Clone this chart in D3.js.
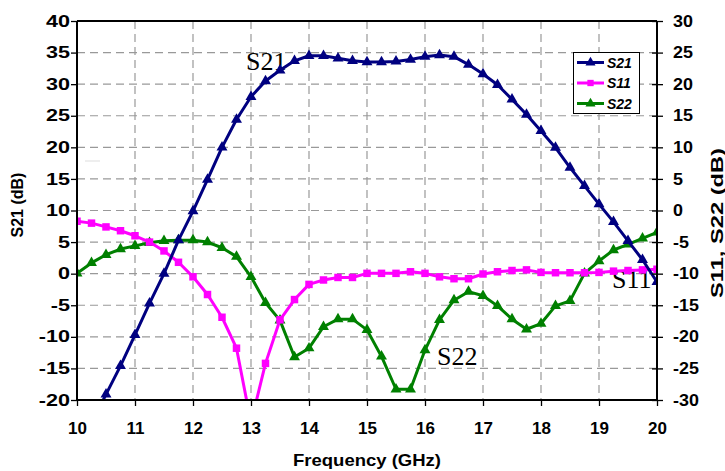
<!DOCTYPE html>
<html>
<head>
<meta charset="utf-8">
<script src="https://cdn.jsdelivr.net/npm/d3@7"></script>
<style>
  body { margin: 0; background: #fff; }
  svg text { font-family: Arial, "Liberation Sans", sans-serif; }
</style>
</head>
<body>
<div id="canvas"></div>
<script>
"use strict"

/* Data (frequency in GHz, levels in dB) */
let freq = [10, 10.25, 10.5, 10.75, 11, 11.25, 11.5, 11.75, 12, 12.25, 12.5, 12.75,
    13, 13.25, 13.5, 13.75, 14, 14.25, 14.5, 14.75, 15, 15.25, 15.5, 15.75,
    16, 16.25, 16.5, 16.75, 17, 17.25, 17.5, 17.75, 18, 18.25, 18.5, 18.75,
    19, 19.25, 19.5, 19.75, 20];

// S21 on left axis, starts at 10.25 GHz
let s21Freq = freq.slice(1);
let s21 = [-23.8, -19.1, -14.6, -9.7, -4.7, 0, 5.3, 9.9, 14.9, 20, 24.4,
    28, 30.5, 32.2, 33.7, 34.5, 34.5, 34.1, 33.7, 33.5, 33.5, 33.6, 33.9,
    34.35, 34.6, 34.35, 33.1, 31.6, 29.9, 27.6, 25.2, 22.6, 19.95, 16.8, 13.9,
    11.0, 8.2, 5.2, 2.2, -1.3];

// S11 and S22 on right axis
let s11 = [-1.7, -2.0, -2.6, -3.2, -4.0, -5.0, -6.4, -8.2, -10.5, -13.3, -16.9, -21.8,
    -33.6, -24.2, -17.3, -14.1, -11.7, -11.0, -10.6, -10.6, -9.95, -9.95, -9.95, -9.7,
    -9.95, -10.5, -10.8, -10.8, -10.05, -9.7, -9.5, -9.4, -9.8, -9.85, -9.85, -9.85,
    -9.8, -9.6, -9.5, -9.4, -9.3];
let s22 = [-9.95, -8.3, -7.0, -6.1, -5.6, -5.1, -4.8, -4.7, -4.7, -5.0, -5.9, -7.3,
    -10.5, -14.6, -17.4, -23.2, -21.8, -18.4, -17.2, -17.2, -18.9, -23.1, -28.3, -28.3,
    -22.1, -17.3, -14.2, -12.85, -13.5, -15.1, -17.2, -18.8, -17.9, -15.1, -14.3, -9.95,
    -8.0, -6.25, -5.35, -4.4, -3.45];

let xTicks = [10, 11, 12, 13, 14, 15, 16, 17, 18, 19, 20];
let leftTicks = [-20, -15, -10, -5, 0, 5, 10, 15, 20, 25, 30, 35, 40];
let rightTicks = [-30, -25, -20, -15, -10, -5, 0, 5, 10, 15, 20, 25, 30];
let seriesNames = ["S21", "S11", "S22"];

/* Drawing configuration */
let svgWidth = 725;
let svgHeight = 471;
let plotLeft = 77, plotRight = 657, plotTop = 21, plotBottom = 400;
let colors = {S21: "#000080", S11: "#ff00ff", S22: "#008000"};

let svg = d3.select("#canvas")
    .append("svg")
    .attr("width", svgWidth)
    .attr("height", svgHeight);

let xScale = d3.scaleLinear().domain([10, 20]).range([plotLeft, plotRight]);
let yLeft = d3.scaleLinear().domain([-20, 40]).range([plotBottom, plotTop]);
let yRight = d3.scaleLinear().domain([-30, 30]).range([plotBottom, plotTop]);

/* grid */
svg.append("g")
    .selectAll("line")
    .data(leftTicks.filter(d => d > -20 && d < 40))
    .join("line")
    .attr("x1", plotLeft).attr("x2", plotRight)
    .attr("y1", d => yLeft(d)).attr("y2", d => yLeft(d))
    .attr("stroke", "#999").attr("stroke-width", 1.2)
    .attr("stroke-dasharray", "8,5");

svg.append("g")
    .selectAll("line")
    .data(xTicks.filter(d => d > 10 && d < 20))
    .join("line")
    .attr("x1", d => xScale(d)).attr("x2", d => xScale(d))
    .attr("y1", plotTop).attr("y2", plotBottom)
    .attr("stroke", "#999").attr("stroke-width", 1.2)
    .attr("stroke-dasharray", "8,5");

// small faint stroke at left of plot
svg.append("line")
    .attr("x1", 85).attr("x2", 100)
    .attr("y1", 161).attr("y2", 161)
    .attr("stroke", "#ddd").attr("stroke-width", 1);

/* free text labels drawn under the curves */
let tag = svg.append("g")
    .attr("font-size", 26)
    .attr("fill", "#000");
tag.append("text").attr("x", 246).attr("y", 70).style("font-family", "'Liberation Serif', serif").text("S21");
tag.append("text").attr("x", 437).attr("y", 365).style("font-family", "'Liberation Serif', serif").text("S22");
tag.append("text").attr("x", 612).attr("y", 288).style("font-family", "'Liberation Serif', serif").text("S11");

/* border top line */
svg.append("line")
    .attr("x1", plotLeft).attr("x2", plotRight)
    .attr("y1", plotTop).attr("y2", plotTop)
    .attr("stroke", "#000").attr("stroke-width", 2);

/* curves */
svg.append("clipPath").attr("id", "plotclip")
    .append("rect")
    .attr("x", plotLeft).attr("y", plotTop)
    .attr("width", plotRight - plotLeft).attr("height", plotBottom - plotTop);

let plot = svg.append("g").attr("clip-path", "url(#plotclip)");

function drawSeries(xs, ys, yScale, color, marker) {
    let pts = xs.map((x, i) => [xScale(x), yScale(ys[i])]);
    plot.append("path")
        .attr("d", d3.line()(pts))
        .attr("fill", "none")
        .attr("stroke", color)
        .attr("stroke-width", 3)
        .attr("stroke-linejoin", "round");
    plot.append("g")
        .selectAll("path")
        .data(pts)
        .join("path")
        .attr("transform", d => "translate(" + d[0] + "," + d[1] + ")")
        .attr("d", d3.symbol().type(marker).size(marker === d3.symbolSquare ? 56 : 52))
        .attr("fill", color);
}

drawSeries(freq, s22, yRight, colors.S22, d3.symbolTriangle);
drawSeries(freq, s11, yRight, colors.S11, d3.symbolSquare);
drawSeries(s21Freq, s21, yLeft, colors.S21, d3.symbolTriangle);

/* axes */
let plain = d => String(d);

let xAxis = svg.append("g")
    .attr("transform", "translate(0," + plotBottom + ")")
    .call(d3.axisBottom(xScale).tickValues(xTicks).tickFormat(plain).tickSize(6).tickPadding(16));

let leftAxis = svg.append("g")
    .attr("transform", "translate(" + plotLeft + ",0)")
    .call(d3.axisLeft(yLeft).tickValues(leftTicks).tickFormat(plain).tickSize(6).tickPadding(1));

let rightAxis = svg.append("g")
    .attr("transform", "translate(" + plotRight + ",0)")
    .call(d3.axisRight(yRight).tickValues(rightTicks).tickFormat(plain).tickSize(6).tickPadding(10));

rightAxis.selectAll(".tick line").attr("x1", -5);

[xAxis, leftAxis, rightAxis].forEach(function (ax) {
    ax.select(".domain").attr("stroke", "#000").attr("stroke-width", 2);
    ax.selectAll(".tick line").attr("stroke", "#000").attr("stroke-width", 1.3);
    ax.selectAll(".tick text")
        .attr("fill", "#000")
        .attr("font-size", 16)
        .attr("font-weight", "bold")
        .attr("font-family", "Arial, 'Liberation Sans', sans-serif");
});
xAxis.selectAll(".tick text").attr("font-size", 17);

// vertical axis labels are drawn wide in the original
let leftStretch = 1.35, rightStretch = 1.12;
leftAxis.selectAll(".tick text")
    .attr("x", -7 / leftStretch)
    .attr("transform", "scale(" + leftStretch + ",1)");
rightAxis.selectAll(".tick text")
    .attr("x", 16 / rightStretch)
    .attr("transform", "scale(" + rightStretch + ",1)");

xAxis.select(".domain").attr("d", "M" + plotLeft + ",0H" + plotRight);
leftAxis.select(".domain").attr("d", "M0," + plotTop + "V" + plotBottom);
rightAxis.select(".domain").attr("d", "M0," + plotTop + "V" + plotBottom);

/**** label the axes ****/
svg.append("text")
    .attr("x", (plotLeft + plotRight) / 2)
    .attr("y", 466)
    .attr("text-anchor", "middle")
    .attr("font-size", 17)
    .attr("font-weight", "bold")
    .attr("textLength", 148)
    .attr("lengthAdjust", "spacingAndGlyphs")
    .text("Frequency (GHz)");

svg.append("text")
    .attr("transform", "translate(23,205) rotate(-90)")
    .attr("text-anchor", "middle")
    .attr("font-size", 16)
    .attr("font-weight", "bold")
    .text("S21 (dB)");

svg.append("text")
    .attr("transform", "translate(723,223) rotate(-90)")
    .attr("text-anchor", "middle")
    .attr("font-size", 16)
    .attr("font-weight", "bold")
    .attr("textLength", 150)
    .attr("lengthAdjust", "spacingAndGlyphs")
    .text("S11, S22 (dB)");

/* legend */
let legend = svg.append("g");
legend.append("rect")
    .attr("x", 573.5).attr("y", 52.5)
    .attr("width", 66).attr("height", 61)
    .attr("fill", "#fff")
    .attr("stroke", "#000").attr("stroke-width", 1);

seriesNames.forEach(function (name, i) {
    let yy = 62.5 + i * 20.5;
    legend.append("line")
        .attr("x1", 577).attr("x2", 604)
        .attr("y1", yy).attr("y2", yy)
        .attr("stroke", colors[name]).attr("stroke-width", 3);
    legend.append("path")
        .attr("transform", "translate(590.5," + yy + ")")
        .attr("d", d3.symbol().type(name === "S11" ? d3.symbolSquare : d3.symbolTriangle).size(name === "S11" ? 40 : 44))
        .attr("fill", colors[name]);
    legend.append("text")
        .attr("x", 607).attr("y", yy + 5)
        .attr("font-size", 14)
        .attr("font-weight", "bold")
        .attr("font-style", "italic")
        .text(name);
});
</script>
</body>
</html>
